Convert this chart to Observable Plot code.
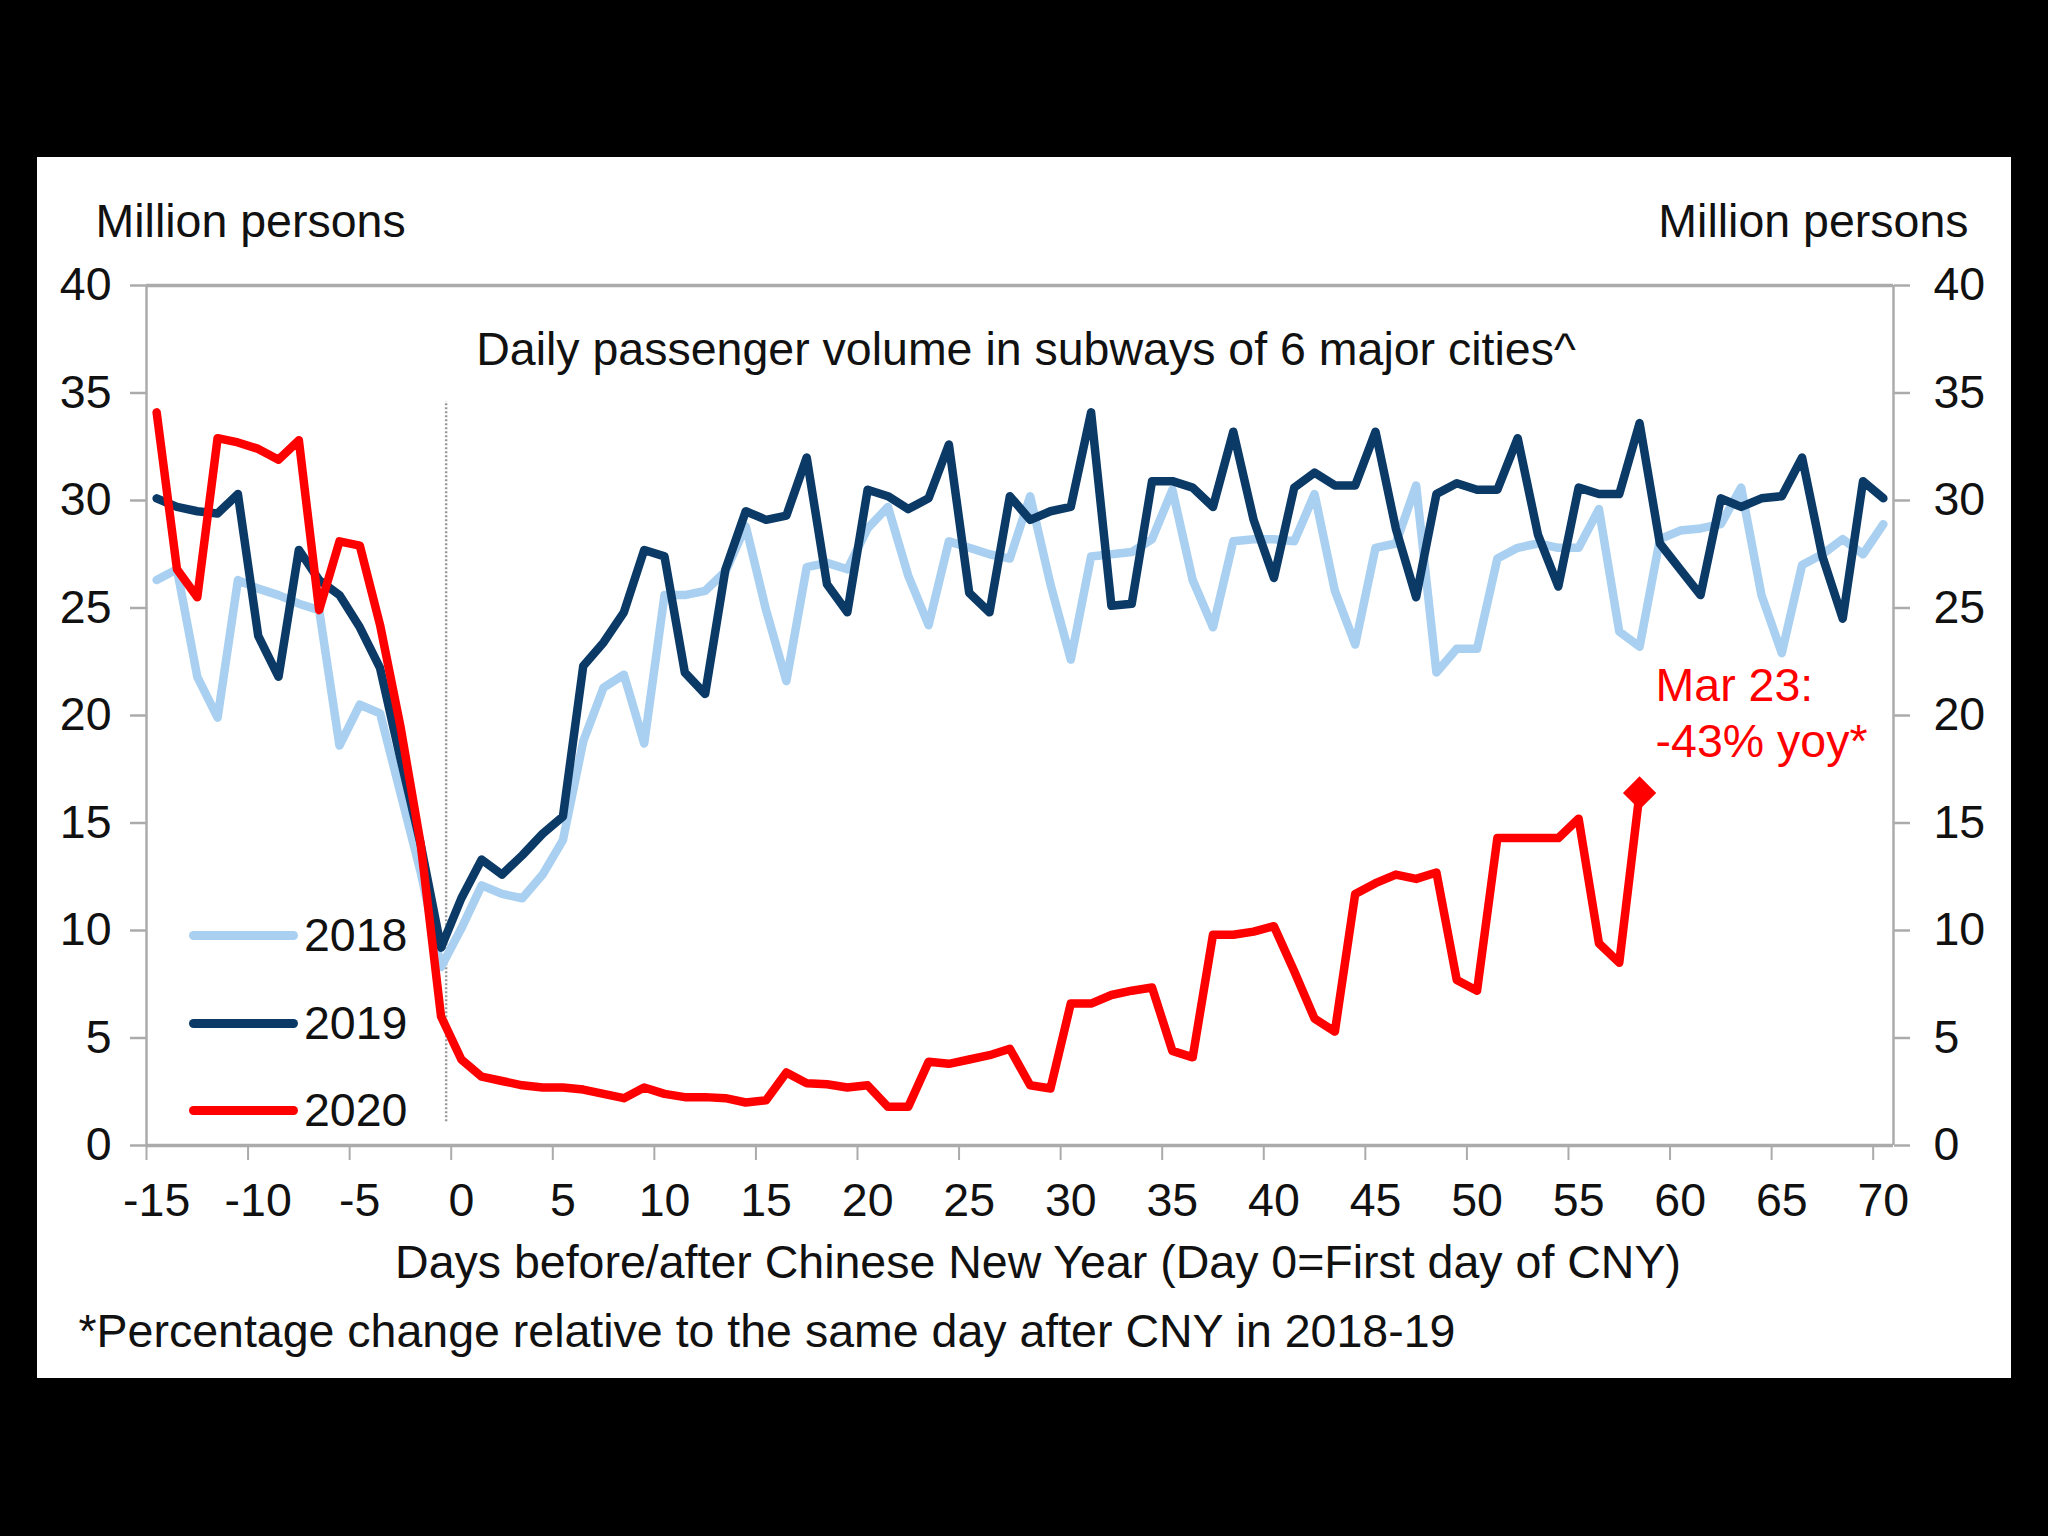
<!DOCTYPE html>
<html>
<head>
<meta charset="utf-8">
<script src="https://cdn.jsdelivr.net/npm/d3@7"></script>
<script src="https://cdn.jsdelivr.net/npm/@observablehq/plot@0.6"></script>
<style>
  html, body { margin: 0; padding: 0; background: #000; }
  body { width: 2048px; height: 1536px; position: relative; overflow: hidden;
         font-family: "Liberation Sans", Arial, sans-serif; }
  #panel { position: absolute; left: 37px; top: 157px; width: 1974px; height: 1221px; background: #fff; }
  #panel svg { position: absolute; left: 0; top: 0; }
  .leg { position: absolute; left: 152px; height: 60px; display: flex; align-items: center; }
  .leg .sw { width: 109px; height: 9px; border-radius: 5px; margin-right: 6px; }
  .leg .lb { font-size: 46.5px; color: #111; line-height: 1; }
</style>
</head>
<body>
<div id="panel"></div>
<script>
// ---------- data ----------
const days = [-15,-14,-13,-12,-11,-10,-9,-8,-7,-6,-5,-4,-3,-2,-1,0,1,2,3,4,5,6,7,8,9,10,
  11,12,13,14,15,16,17,18,19,20,21,22,23,24,25,26,27,28,29,30,31,32,33,34,35,36,37,38,39,40,
  41,42,43,44,45,46,47,48,49,50,51,52,53,54,55,56,57,58,59,60,61,62,63,64,65,66,67,68,69,70];

const years = ["2018", "2019", "2020"];
const yearColors = ["#A9D0F0", "#0B3A67", "#FF0000"];

const v2018 = [26.3,26.8,21.8,19.9,26.3,25.9,25.6,25.2,24.9,18.6,20.5,20.1,16.4,12.7,8.3,10.1,12.1,11.7,11.5,12.6,
  14.2,18.8,21.3,21.9,18.7,25.6,25.6,25.8,26.7,28.8,24.9,21.6,26.9,27.1,26.8,28.7,29.7,26.5,24.2,28.1,
  27.8,27.5,27.3,30.2,26.1,22.6,27.4,27.5,27.6,28.2,30.5,26.3,24.1,28.1,28.2,28.2,28.1,30.3,25.8,23.3,
  27.8,28.0,30.7,22.0,23.1,23.1,27.3,27.8,28.0,27.8,27.8,29.6,23.9,23.2,28.2,28.6,28.7,28.9,30.6,25.6,
  22.9,27.0,27.5,28.2,27.5,28.9];

const v2019 = [30.1,29.7,29.5,29.4,30.3,23.7,21.8,27.7,26.3,25.6,24.1,22.2,18.0,14.0,9.2,11.5,13.3,12.6,13.5,14.5,
  15.3,22.3,23.4,24.8,27.7,27.4,22.0,21.0,26.8,29.5,29.1,29.3,32.0,26.1,24.8,30.5,30.2,29.6,30.1,32.6,
  25.7,24.8,30.2,29.1,29.5,29.7,34.1,25.1,25.2,30.9,30.9,30.6,29.7,33.2,29.1,26.4,30.6,31.3,30.7,30.7,
  33.2,28.7,25.5,30.3,30.8,30.5,30.5,32.9,28.4,26.0,30.6,30.3,30.3,33.6,28.0,26.8,25.6,30.1,29.7,30.1,
  30.2,32.0,27.4,24.5,30.9,30.1];

const v2020 = [34.1,26.8,25.5,32.9,32.7,32.4,31.9,32.8,24.9,28.1,27.9,24.2,19.5,14.0,6.0,4.0,3.2,3.0,2.8,2.7,
  2.7,2.6,2.4,2.2,2.7,2.4,2.25,2.25,2.2,2.0,2.1,3.4,2.9,2.85,2.7,2.8,1.8,1.8,3.9,3.8,
  4.0,4.2,4.5,2.8,2.65,6.6,6.6,7.0,7.2,7.35,4.4,4.1,9.8,9.8,9.95,10.2,8.1,5.9,5.3,11.7,
  12.2,12.6,12.4,12.7,7.7,7.2,14.3,14.3,14.3,14.3,15.2,9.4,8.5,16.4];

const xTickLabels = [-15,-10,-5,0,5,10,15,20,25,30,35,40,45,50,55,60,65,70];
const xTickMarks = [-15.5,-10.5,-5.5,-0.5,4.5,9.5,14.5,19.5,24.5,29.5,34.5,39.5,44.5,49.5,54.5,59.5,64.5,69.5];
const yTicks = [0,5,10,15,20,25,30,35,40];
const xDomain = [-15.5, 70.5];
const yDomain = [0, 40];

const cnyMarker = [{day: -0.75, from: 1.1, to: 34.6}];

const titleText = "Daily passenger volume in subways of 6 major cities^";
const unitText = "Million persons";
const xTitle = "Days before/after Chinese New Year (Day 0=First day of CNY)";
const footnote = "*Percentage change relative to the same day after CNY in 2018-19";
const annotation = "Mar 23:\n-43% yoy*";

// ---------- build rows ----------
const seriesValues = [v2018, v2019, v2020];
const rows = [];
years.forEach((yr, k) => {
  seriesValues[k].forEach((v, i) => rows.push({day: days[i], value: v, year: yr}));
});
const last2020 = [{day: days[v2020.length - 1], value: v2020[v2020.length - 1]}];

const font = "'Liberation Sans', Arial, sans-serif";
const axisGray = "#ABABAB";
const fs = 46.5;

const chart = Plot.plot({
  width: 1974,
  height: 1221,
  marginTop: 128,
  marginRight: 118,
  marginBottom: 233,
  marginLeft: 109,
  style: {fontFamily: font, fontSize: fs + "px", color: "#111", background: "transparent", overflow: "visible"},
  x: {domain: xDomain},
  y: {domain: yDomain},
  color: {domain: years, range: yearColors},
  marks: [
    Plot.ruleX(xDomain, {stroke: axisGray, strokeWidth: 2.5}),
    Plot.ruleY(yDomain, {stroke: axisGray, strokeWidth: 3.5}),
    Plot.axisY(yTicks, {anchor: "left", tickSize: 16, tickPadding: 19, stroke: axisGray, strokeWidth: 2.5, label: null, fontSize: fs, tickFormat: d => `${d}`}),
    Plot.axisY(yTicks, {anchor: "right", tickSize: 16, tickPadding: 24, stroke: axisGray, strokeWidth: 2.5, label: null, fontSize: fs, tickFormat: d => `${d}`}),
    Plot.axisX(xTickLabels, {anchor: "bottom", tickSize: 0, tickPadding: 37, label: null, fontSize: fs, tickFormat: d => `${d}`}),
    Plot.axisX(xTickMarks, {anchor: "bottom", tickSize: 15, stroke: axisGray, strokeWidth: 2, tickFormat: () => "", label: null}),
    Plot.ruleX(cnyMarker, {x: "day", y1: "from", y2: "to", stroke: "#9a9a9a", strokeWidth: 2.5, strokeDasharray: "2,2"}),
    Plot.lineY(rows, {x: "day", y: "value", stroke: "year", strokeWidth: 8.5, strokeLinejoin: "round", strokeLinecap: "round"}),
    Plot.dot(last2020, {x: "day", y: "value", symbol: "diamond2", r: 15, fill: "#FF0000", stroke: "none"}),
    Plot.text(last2020, {x: "day", y: "value", text: () => annotation, textAnchor: "start", lineAnchor: "middle",
      lineHeight: 1.2, dx: 16, dy: -82, fill: "#FF0000", fontSize: fs}),
    Plot.text([titleText], {frameAnchor: "top", dx: 6, dy: 65, lineAnchor: "middle", fontSize: fs, fill: "#111"}),
    Plot.text([unitText], {frameAnchor: "top-left", textAnchor: "start", dx: -51, dy: -63, lineAnchor: "middle", fontSize: fs, fill: "#111"}),
    Plot.text([unitText], {frameAnchor: "top-right", textAnchor: "end", dx: 75, dy: -63, lineAnchor: "middle", fontSize: fs, fill: "#111"}),
    Plot.text([xTitle], {frameAnchor: "bottom", dx: 18, dy: 118, lineAnchor: "middle", fontSize: fs, fill: "#111"}),
    Plot.text([footnote], {frameAnchor: "bottom-left", textAnchor: "start", dx: -68, dy: 187, lineAnchor: "middle", fontSize: fs, fill: "#111"})
  ]
});

const panel = document.getElementById("panel");
panel.appendChild(chart);

// legend (HTML overlay inside the plot area)
const legendY = [778, 866, 953];
years.forEach((yr, k) => {
  const row = document.createElement("div");
  row.className = "leg";
  row.style.top = (legendY[k] - 30) + "px";
  const sw = document.createElement("div");
  sw.className = "sw";
  sw.style.background = yearColors[k];
  const lb = document.createElement("div");
  lb.className = "lb";
  lb.textContent = yr;
  row.appendChild(sw);
  row.appendChild(lb);
  panel.appendChild(row);
});
</script>
</body>
</html>
